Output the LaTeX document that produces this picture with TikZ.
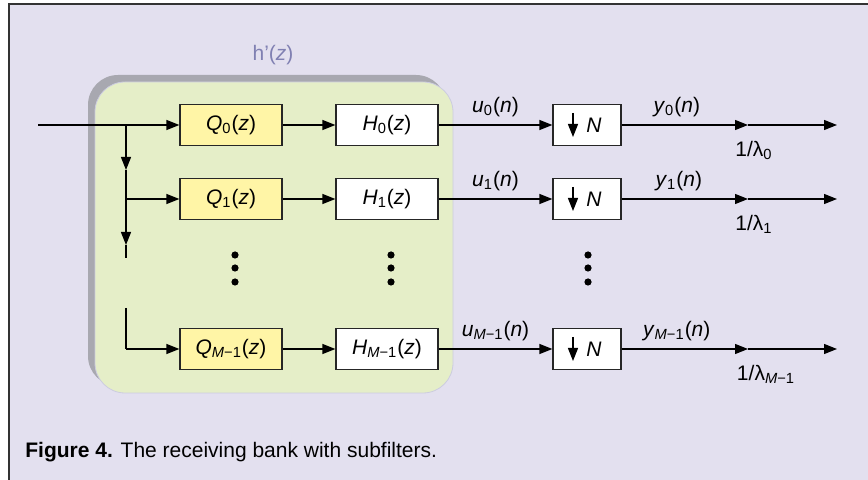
\documentclass[tikz,border=0pt]{standalone}
\usepackage{fontspec}
\setmainfont{Liberation Sans}
\usetikzlibrary{arrows.meta, positioning}
\definecolor{bglav}{RGB}{227,224,239}
\definecolor{boxgreen}{RGB}{229,238,200}
\definecolor{shadowgray}{RGB}{168,168,176}
\definecolor{qyellow}{RGB}{255,245,166}
\definecolor{hlabel}{RGB}{128,128,178}
\newcommand{\lbl}{\fontsize{10.5}{12}\selectfont}
\newcommand{\msub}{\textsubscript{\textit{M}−1}}
\tikzset{
  blk/.style={draw=black!85, line width=0.6pt, minimum width=51pt, minimum height=20.5pt, inner sep=0pt, font=\lbl},
  qblk/.style={blk, fill=qyellow},
  hblk/.style={blk, fill=white},
  dblk/.style={blk, fill=white, minimum width=34pt},
  sig/.style={-{Triangle[length=6.5pt,width=5pt]}, line width=0.6pt},
  wire/.style={line width=0.6pt},
  lab/.style={font=\lbl, inner sep=1pt}
}

\begin{document}
\begin{tikzpicture}[x=0.5pt, y=-0.5pt]
    % Frame and background
    \useasboundingbox (0,0) rectangle (868,480);
    \fill[bglav] (9,4) rectangle (868,480);
    \draw[line width=1pt, black!80] (9,480) -- (9,4) -- (868,4);
    % Subfilter block h'(z)
    \fill[shadowgray, rounded corners=15pt] (88,75) rectangle (446,386);
    \filldraw[fill=boxgreen, draw=hlabel!40, line width=0.4pt, rounded corners=15pt] (95,82) rectangle (453,393);
    \node[font=\lbl, text=hlabel] (hz) at (273,55) {h'(\textit{z})};
    % Filters
    \node[qblk] (Q0) at (231,125) {\textit{Q}\textsubscript{0}(\textit{z})};
    \node[qblk] (Q1) at (231,199) {\textit{Q}\textsubscript{1}(\textit{z})};
    \node[qblk] (QM) at (231,349) {\textit{Q}\msub(\textit{z})};
    \node[hblk] (H0) at (387,125) {\textit{H}\textsubscript{0}(\textit{z})};
    \node[hblk] (H1) at (387,199) {\textit{H}\textsubscript{1}(\textit{z})};
    \node[hblk] (HM) at (387,349) {\textit{H}\msub(\textit{z})};
    % Downsamplers
    \node[dblk] (N0) at (587,125) {\hspace*{7pt}\textit{N}};
    \node[dblk] (N1) at (587,199) {\hspace*{7pt}\textit{N}};
    \node[dblk] (NM) at (587,349) {\hspace*{7pt}\textit{N}};
    \foreach \n in {N0,N1,NM}
      \draw[sig] ([xshift=-7pt, yshift=6pt]\n.center) -- ([xshift=-7pt, yshift=-6pt]\n.center);
    % Input and branch points
    \coordinate (in) at (38,125);
    \coordinate (b0) at (126,125);
    \coordinate (a0) at (126,170);
    \coordinate (b1) at (126,199);
    \coordinate (a1) at (126,245);
    \coordinate (bend) at (126,258);
    \coordinate (bstart) at (126,308);
    \coordinate (bM) at (126,349);
    \draw[sig] (in) -- (Q0);
    \draw[sig] (b0) -- (a0);
    \draw[wire] (a0) -- (b1);
    \draw[sig] (b1) -- (Q1);
    \draw[sig] (b1) -- (a1);
    \draw[wire] (a1) -- (bend);
    \draw[wire] (bstart) -- (bM);
    \draw[sig] (bM) -- (QM);
    % Rows
    \draw[sig] (Q0) -- (H0);
    \draw[sig] (Q1) -- (H1);
    \draw[sig] (QM) -- (HM);
    \draw[sig] (H0) -- node[lab, above=3pt] {\textit{u}\textsubscript{0}(\textit{n})} (N0);
    \draw[sig] (H1) -- node[lab, above=3pt] {\textit{u}\textsubscript{1}(\textit{n})} (N1);
    \draw[sig] (HM) -- node[lab, above=3pt] {\textit{u}\msub(\textit{n})} (NM);
    % Gains and outputs
    \coordinate (g0) at (748,125);
    \coordinate (g1) at (748,199);
    \coordinate (gM) at (748,349);
    \coordinate (o0) at (837,125);
    \coordinate (o1) at (837,199);
    \coordinate (oM) at (837,349);
    \draw[sig] (N0) -- node[lab, above=3pt, xshift=-4pt] {\textit{y}\textsubscript{0}(\textit{n})} (g0);
    \draw[sig] (N1) -- node[lab, above=3pt, xshift=-3pt] {\textit{y}\textsubscript{1}(\textit{n})} (g1);
    \draw[sig] (NM) -- node[lab, above=3pt, xshift=-4pt] {\textit{y}\msub(\textit{n})} (gM);
    \draw[sig] (g0) -- (o0);
    \draw[sig] (g1) -- (o1);
    \draw[sig] (gM) -- (oM);
    \node[lab, below=7pt of g0, xshift=3pt] (l0) {1/λ\textsubscript{0}};
    \node[lab, below=7pt of g1, xshift=3pt] (l1) {1/λ\textsubscript{1}};
    \node[lab, below=7pt of gM, xshift=9pt] (lM) {1/λ\msub};
    % Dots
    \foreach \x in {235,391,588}
      \foreach \y in {255,268,282}
        \fill (\x,\y) circle (1.8pt);
    % Caption
    \node[font=\lbl, anchor=west, inner sep=0pt] (cap) at (25,452) {\textbf{Figure 4.} The receiving bank with subfilters.};
\end{tikzpicture}
\end{document}
